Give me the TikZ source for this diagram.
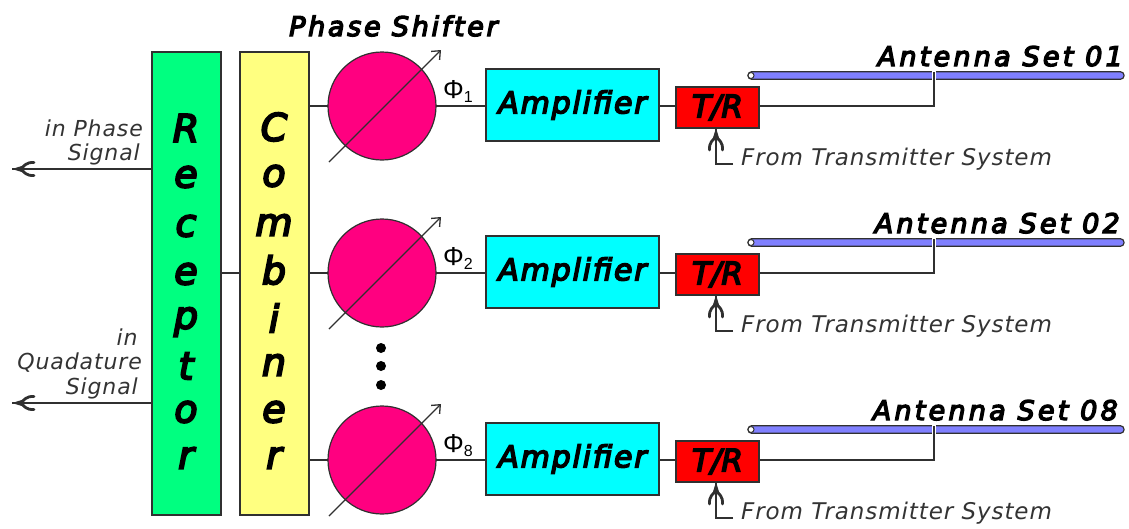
\documentclass[tikz,border=0pt]{standalone}
\usepackage{fontspec}
\setmainfont{DejaVu Sans}
\newfontfamily\lblfont[LetterSpace=4]{DejaVu Sans Oblique}
\newfontfamily\bigfont[FakeBold=5]{DejaVu Sans Oblique}
\newfontfamily\ampfont[FakeBold=5,LetterSpace=6]{DejaVu Sans Oblique}
\newfontfamily\psfont[FakeBold=5,LetterSpace=10]{DejaVu Sans Oblique}
\newfontfamily\wideant[FakeBold=5,LetterSpace=12]{DejaVu Sans Oblique}
\newfontfamily\phifont{Liberation Sans}
\usetikzlibrary{arrows.meta}
\definecolor{rcv}{HTML}{00FF80}
\definecolor{cmb}{HTML}{FFFF80}
\definecolor{shf}{HTML}{FF0080}
\definecolor{amp}{HTML}{00FFFF}
\definecolor{trc}{HTML}{FF0000}
\definecolor{ant}{HTML}{8080FF}
\definecolor{edge}{HTML}{303030}
\tikzset{
 x=1pt,y=-1pt,
 conn/.style={draw=edge,line width=1.2pt},
 block/.style={draw=edge,line width=1.2pt,minimum width=#1,inner sep=0pt,outer sep=0pt},
 tall/.style={block=69pt,minimum height=463pt},
 shifter/.style={circle,draw=edge,fill=shf,line width=1.2pt,minimum size=108pt,inner sep=0pt,outer sep=0pt},
 ampbox/.style={block=173pt,minimum height=72pt,fill=amp,font=\ampfont\fontsize{30}{32}\selectfont},
 trbox/.style={block=83pt,minimum height=41pt,fill=trc,font=\bigfont\fontsize{31}{32}\selectfont},
 bar/.style={draw=edge,fill=ant,line width=1.2pt,rounded corners=3.5pt,minimum width=376pt,minimum height=7.5pt,inner sep=0pt,outer sep=0pt},
 vlet/.style={font=\bigfont\fontsize{38}{40}\selectfont,inner sep=0pt},
 title/.style={font=\wideant\fontsize{27}{30}\selectfont,inner sep=0pt,anchor=base east},
 pstitle/.style={font=\psfont\fontsize{27}{30}\selectfont,inner sep=0pt,anchor=base west},
 small/.style={font=\lblfont\fontsize{23}{24}\selectfont,text=black!80,inner sep=0pt},
 lbl/.style={font=\lblfont\fontsize{22}{24}\selectfont,text=black!80,inner sep=0pt},
 adjust/.style={-{Straight Barb[length=7pt,width=12pt,line width=1.3pt]}},
 prong/.pic={
   \fill[edge] (0,0) -- (11,-3.4) -- (11,3.4) -- cycle;
   \draw[edge,line width=2.8pt,line cap=round] (22,-6.5) .. controls (14,-7) and (12,-3) .. (9,0) .. controls (12,3) and (14,7) .. (22,6.5);
 },
}
\begin{document}
\begin{tikzpicture}
\useasboundingbox (0,0) rectangle (1129,528);
\node[tall,fill=rcv] (rec) at (186.5,283.5) {};
\node[tall,fill=cmb] (com) at (274.5,283.5) {};
\foreach \c/\y/\n in {R/128/1,e/177/2,c/226/3,e/274/4,p/322/5,t/366/6,o/412/7,r/458/8}
  \node[vlet] (rl\n) at (186,\y) {\c};
\foreach \c/\y/\n in {C/127/1,o/176/2,m/225/3,b/270/4,i/318/5,n/365/6,e/412/7,r/458/8}
  \node[vlet] (cl\n) at (274,\y) {\c};
\node[pstitle] (ps) at (289,36) {Phase Shifter};
\draw[conn] (rec.east |- 0,273) -- (com.west |- 0,273);
\foreach \s/\y/\aname/\tx/\phx in {1/106/01/1123/1,2/273/02/1120/2,8/460/08/1118/8}{
  \node[shifter] (c\s) at (382,\y) {};
  \node[ampbox] (a\s) at (572.5,\y-1) {Amplifier};
  \node[trbox] (t\s) at (717.5,\y+1.5) {T/R};
  \node[bar] (b\s) at (936,\y-30.5) {};
  \node[circle,draw=edge,fill=white,line width=1pt,minimum size=6pt,inner sep=0pt] (e\s) at (751,\y-30.5) {};
  \node[title] (n\s) at (\tx,\y-40) {Antenna Set \aname};
  \node[inner sep=0pt,anchor=base west,font=\phifont\fontsize{26}{28}\selectfont] (p\s) at (443,\y-8) {Φ\raisebox{-4pt}{\fontsize{16}{16}\selectfont\phx}};
  \draw[conn] (com.east |- c\s.west) -- (c\s.west);
  \draw[conn] (c\s.east) -- (c\s.east -| a\s.west);
  \draw[conn] (a\s.east |- 0,\y) -- (t\s.west |- 0,\y);
  \coordinate (fa\s) at (934,\y-34);
  \draw[white,line width=3.4pt] (934,\y-34.6) -- (934,\y-26.4);
  \draw[conn] (t\s.east |- 0,\y) -| (fa\s);
  \coordinate (ds\s) at (329,\y+56);
  \coordinate (de\s) at (441,\y-56);
  \draw[conn,adjust] (ds\s) -- (de\s);
  \coordinate (ft\s) at (716,\y+58);
  \coordinate (fe\s) at (733,\y+58);
  \node[small,anchor=base west] (f\s) at (741,\y+59) {From Transmitter System};
  \draw[conn] (fe\s) -- (ft\s) -- (t\s.south -| ft\s);
  \pic[rotate=-90] at (t\s.south -| ft\s) {prong};
}
\foreach \y/\n in {348/1,366/2,385/3}
  \node[circle,fill=black,minimum size=10pt,inner sep=0pt] (dot\n) at (381,\y) {};
\coordinate (o1) at (12,169);
\coordinate (o2) at (12,403);
\foreach \n in {1,2}{
  \draw[conn] (rec.west |- o\n) -- (o\n);
  \pic at (o\n) {prong};
}
\node[lbl,anchor=base east] (l1) at (143,136) {in Phase};
\node[lbl,anchor=base east] (l2) at (140,160) {Signal};
\node[lbl,anchor=base] (l3) at (127,345) {in};
\node[lbl,anchor=base east] (l4) at (142,369) {Quadature};
\node[lbl,anchor=base east] (l5) at (138,394) {Signal};
\end{tikzpicture}
\end{document}
